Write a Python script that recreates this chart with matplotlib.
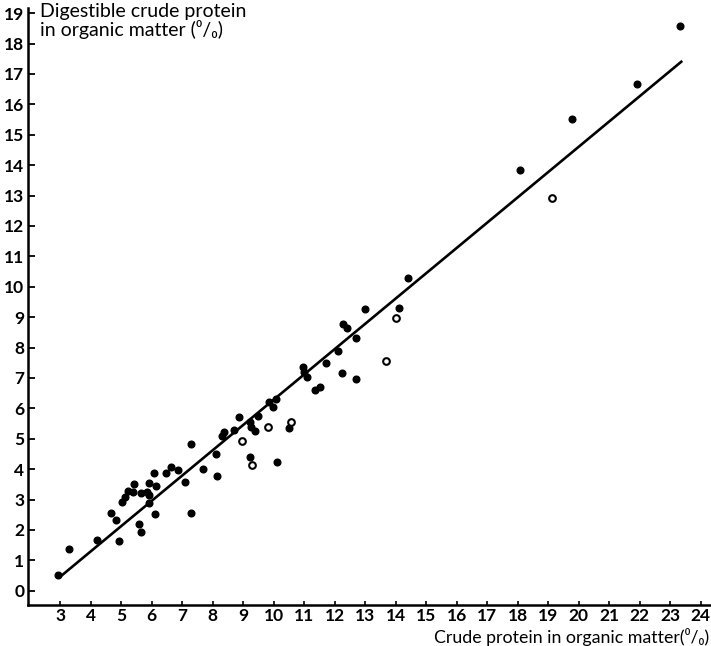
import numpy as np
import matplotlib
matplotlib.use('Agg')
import matplotlib.pyplot as plt

plt.rcParams['font.family'] = ['Lato', 'DejaVu Sans']

# Muestras con punto relleno: proteína bruta (x) y proteína digestible (y), % en materia orgánica
cp_filled = [2.94, 3.30, 4.20, 4.66, 4.83, 4.92, 5.03, 5.12, 5.23, 5.40,
             5.43, 5.60, 5.67, 5.66, 5.86, 5.92, 5.93, 5.91, 6.09, 6.15,
             6.12, 6.48, 6.63, 6.86, 7.11, 7.29, 7.29, 7.70, 8.10, 8.16,
             8.30, 8.38, 8.69, 8.87, 9.23, 9.26, 9.38, 9.50, 9.23, 9.85,
             9.98, 10.07, 10.12, 10.52, 10.96, 11.01, 11.09, 11.36, 11.52, 11.71,
             12.10, 12.23, 12.69, 12.69, 12.29, 12.42, 13.01, 14.10, 14.40, 18.08,
             19.80, 21.92, 23.34]
dcp_filled = [0.52, 1.37, 1.67, 2.55, 2.34, 1.65, 2.91, 3.08, 3.29, 3.25,
              3.50, 2.20, 1.92, 3.20, 3.25, 3.55, 3.14, 2.90, 3.86, 3.46,
              2.53, 3.88, 4.08, 3.98, 3.59, 4.84, 2.57, 3.99, 4.49, 3.77,
              5.08, 5.22, 5.30, 5.71, 5.56, 5.38, 5.26, 5.76, 4.41, 6.20,
              6.03, 6.30, 4.24, 5.34, 7.36, 7.21, 7.04, 6.59, 6.71, 7.48,
              7.90, 7.17, 8.32, 6.96, 8.77, 8.63, 9.28, 9.31, 10.28, 13.84,
              15.51, 16.68, 18.59]

# Muestras con círculo abierto
cp_open = [8.98, 9.30, 9.83, 10.58, 13.68, 14.03, 19.14]
dcp_open = [4.92, 4.14, 5.38, 5.54, 7.55, 8.98, 12.91]

# Recta de regresión
slope = 0.832
intercept = -2.04
line_range = [3.0, 23.4]

x_ticks = list(range(3, 25))
y_ticks = list(range(0, 20))

fig = plt.figure(figsize=(7.11, 6.46), dpi=100)
ax = fig.add_axes([28.3 / 711, 1 - 605 / 646, (710 - 28.3) / 711, (605 - 8) / 646])

lx = np.array(line_range)
ax.plot(lx, slope * lx + intercept, color='black', linewidth=1.9, solid_capstyle='butt')
ax.plot(cp_filled, dcp_filled, 'o', color='black', markersize=4.8, linestyle='none')
ax.plot(cp_open, dcp_open, 'o', markerfacecolor='white', markeredgecolor='black',
        markeredgewidth=1.5, markersize=4.8, linestyle='none')

ax.set_xlim(1.96, 24.31)
ax.set_ylim(-0.47, 19.17)
ax.spines['top'].set_visible(False)
ax.spines['right'].set_visible(False)
ax.spines['left'].set_linewidth(1.8)
ax.spines['bottom'].set_linewidth(1.8)

ax.set_xticks(x_ticks)
ax.set_yticks(y_ticks)
ax.tick_params(axis='y', direction='in', length=5, width=1.3, pad=3, labelsize=12.5)
ax.tick_params(axis='x', direction='in', length=3, width=1.2, pad=2, labelsize=12.5)
for lab in ax.get_xticklabels() + ax.get_yticklabels():
    lab.set_fontweight('bold')

fig.text(40 / 711, 1 - 3 / 646, 'Digestible crude protein\nin organic matter (\u2070/\u2080)',
         ha='left', va='top', fontsize=14, linespacing=0.98)
fig.text(709 / 711, 1 - 643 / 646, 'Crude protein in organic matter(\u2070/\u2080)',
         ha='right', va='baseline', fontsize=12.8)

fig.savefig('out.png', dpi=100, facecolor='white')
